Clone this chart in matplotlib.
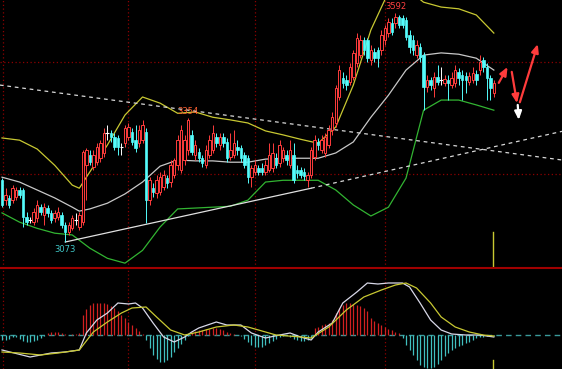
import numpy as np
import matplotlib.pyplot as plt
from matplotlib.patches import Rectangle
from matplotlib.lines import Line2D

plt.rcParams['font.family'] = 'DejaVu Sans'

# daily candles (index points)
opens = [3213, 3168, 3173, 3168, 3175, 3191, 3191, 3129, 3123, 3118, 3127, 3152, 3134, 3150, 3139, 3127,
         3129, 3134, 3111, 3095, 3104, 3123, 3107, 3118, 3247, 3270, 3243, 3254, 3263, 3275, 3320, 3320,
         3311, 3309, 3288, 3297, 3311, 3322, 3304, 3297, 3304, 3322, 3168, 3195, 3184, 3186, 3197, 3218,
         3209, 3225, 3247, 3236, 3259, 3281, 3316, 3270, 3277, 3263, 3247, 3270, 3281, 3311, 3293, 3311,
         3300, 3266, 3270, 3288, 3286, 3270, 3263, 3220, 3232, 3241, 3241, 3232, 3236, 3241, 3263, 3252,
         3263, 3270, 3247, 3270, 3236, 3236, 3232, 3213, 3225, 3266, 3300, 3281, 3275, 3293, 3327, 3343,
         3402, 3445, 3440, 3436, 3447, 3479, 3497, 3531, 3531, 3486, 3504, 3509, 3509, 3531, 3547, 3570,
         3570, 3583, 3581, 3577, 3543, 3531, 3497, 3515, 3497, 3425, 3440, 3422, 3447, 3440, 3434, 3440,
         3429, 3434, 3459, 3452, 3450, 3436, 3440, 3454, 3463, 3486, 3470, 3445, 3411]
closes = [3157, 3179, 3157, 3195, 3191, 3179, 3129, 3118, 3123, 3141, 3157, 3141, 3152, 3139, 3123, 3139,
          3141, 3111, 3095, 3111, 3127, 3123, 3134, 3277, 3281, 3254, 3270, 3288, 3297, 3320, 3320, 3311,
          3288, 3288, 3288, 3331, 3334, 3300, 3286, 3327, 3338, 3168, 3213, 3186, 3213, 3220, 3225, 3207,
          3247, 3259, 3304, 3327, 3304, 3350, 3277, 3293, 3263, 3252, 3281, 3304, 3320, 3297, 3311, 3297,
          3263, 3281, 3297, 3281, 3263, 3247, 3220, 3241, 3247, 3232, 3232, 3247, 3270, 3275, 3247, 3293,
          3281, 3259, 3281, 3213, 3229, 3225, 3222, 3225, 3281, 3304, 3293, 3304, 3311, 3327, 3356, 3422,
          3463, 3434, 3429, 3470, 3502, 3536, 3531, 3509, 3490, 3509, 3490, 3490, 3543, 3558, 3572, 3549,
          3583, 3565, 3565, 3538, 3515, 3509, 3520, 3493, 3425, 3440, 3429, 3447, 3436, 3440, 3443, 3434,
          3445, 3463, 3445, 3440, 3440, 3450, 3456, 3440, 3481, 3470, 3445, 3422, 3434]
highs = [3218, 3195, 3179, 3202, 3197, 3197, 3195, 3141, 3129, 3150, 3168, 3159, 3161, 3157, 3145, 3145,
         3152, 3141, 3118, 3118, 3134, 3139, 3141, 3281, 3286, 3281, 3281, 3297, 3304, 3331, 3338, 3327,
         3320, 3316, 3297, 3338, 3343, 3331, 3338, 3338, 3350, 3331, 3220, 3207, 3225, 3232, 3236, 3225,
         3259, 3263, 3316, 3338, 3316, 3354, 3327, 3304, 3286, 3270, 3293, 3316, 3338, 3320, 3320, 3320,
         3309, 3320, 3327, 3304, 3293, 3277, 3270, 3247, 3259, 3247, 3252, 3259, 3297, 3297, 3275, 3304,
         3288, 3281, 3304, 3297, 3247, 3243, 3241, 3232, 3288, 3316, 3309, 3316, 3320, 3338, 3368, 3429,
         3474, 3459, 3452, 3479, 3509, 3547, 3543, 3538, 3536, 3520, 3513, 3515, 3554, 3565, 3581, 3581,
         3592, 3588, 3588, 3583, 3554, 3543, 3531, 3524, 3504, 3452, 3447, 3459, 3474, 3470, 3452, 3452,
         3459, 3474, 3468, 3463, 3459, 3459, 3470, 3463, 3497, 3493, 3479, 3452, 3440]
lows = [3152, 3157, 3150, 3161, 3168, 3173, 3107, 3111, 3116, 3111, 3118, 3134, 3111, 3129, 3116, 3118,
        3123, 3104, 3073, 3089, 3100, 3111, 3100, 3111, 3168, 3247, 3236, 3247, 3254, 3266, 3304, 3300,
        3281, 3270, 3270, 3288, 3304, 3293, 3277, 3288, 3297, 3116, 3157, 3175, 3173, 3179, 3191, 3195,
        3197, 3218, 3236, 3229, 3247, 3270, 3270, 3259, 3254, 3243, 3241, 3263, 3275, 3288, 3281, 3288,
        3254, 3259, 3263, 3270, 3254, 3241, 3207, 3197, 3225, 3225, 3225, 3225, 3232, 3232, 3241, 3243,
        3254, 3247, 3241, 3207, 3218, 3218, 3213, 3197, 3218, 3259, 3281, 3275, 3266, 3286, 3316, 3334,
        3395, 3422, 3418, 3429, 3440, 3470, 3490, 3497, 3481, 3474, 3481, 3470, 3497, 3520, 3538, 3543,
        3558, 3558, 3558, 3531, 3502, 3497, 3490, 3481, 3372, 3413, 3418, 3402, 3429, 3429, 3427, 3395,
        3422, 3425, 3429, 3395, 3411, 3429, 3434, 3429, 3452, 3459, 3395, 3395, 3402]

# bollinger bands read at sample bars
band_idx = [0, 5, 10, 15, 20, 22, 25, 30, 35, 40, 45, 50, 55, 60, 65, 70, 75, 80, 85, 90,
            95, 100, 105, 110, 115, 120, 125, 130, 135, 140]
boll_upper = [3309, 3304, 3284, 3247, 3202, 3195, 3232, 3293, 3361, 3402, 3388, 3365, 3368, 3356, 3350,
              3343, 3325, 3316, 3306, 3297, 3334, 3429, 3554, 3640, 3649, 3617, 3606, 3602, 3588, 3547]
boll_mid = [3220, 3209, 3191, 3173, 3152, 3143, 3148, 3161, 3182, 3209, 3245, 3259, 3257, 3257, 3254,
            3254, 3261, 3263, 3263, 3263, 3275, 3300, 3356, 3406, 3463, 3497, 3502, 3499, 3490, 3463]
boll_lower = [3139, 3118, 3104, 3093, 3089, 3077, 3059, 3036, 3025, 3054, 3107, 3148, 3150, 3152, 3154,
              3168, 3209, 3213, 3213, 3213, 3191, 3157, 3132, 3152, 3218, 3372, 3395, 3395, 3384, 3372]

# trend lines (bar, price)
down_trend = [(-0.6, 3429), (159.4, 3259)]
up_trend_solid = [(18, 3073), (88, 3195)]
up_trend_dash = [(88, 3195), (159.4, 3324)]

# MACD
dif_idx = [0, 8, 14, 18, 22, 24, 27, 30, 33, 36, 38, 40, 43, 46, 49, 52, 54, 56, 61, 64, 68, 71,
           75, 79, 82, 85, 88, 90, 94, 97, 101, 104, 107, 110, 114, 116, 119, 122, 125, 128, 132, 136, 140]
dif_vals = [-15, -22, -18, -17, -15, 2, 15, 22, 32, 31, 32, 27, 12, -2, -7, -2, 3, 7, 13, 10, 10, 2,
            -3, 0, 2, -2, -5, 3, 12, 32, 43, 52, 51, 52, 52, 48, 32, 15, 5, 1, 0, 0, -2]
dea_idx = [0, 5, 11, 16, 22, 26, 30, 34, 37, 41, 44, 48, 52, 56, 61, 66, 70, 73, 78, 85, 88, 93,
           98, 103, 108, 112, 115, 118, 122, 125, 129, 133, 137, 140]
dea_vals = [-17, -18, -20, -18, -15, 3, 13, 22, 27, 28, 18, 5, 0, 3, 8, 10, 8, 5, 0, -2, -3, 8,
            25, 38, 45, 50, 52, 47, 32, 18, 8, 3, 0, -1]
macd_hist = [-5, -5, -4, -2, -2, -4, -6, -7, -7, -6, -5, -3, -1, 2, 3, 3, 3, 2, 1, 0, 1, 1, 2,
             20, 26, 30, 32, 32, 32, 32, 31, 29, 27, 24, 20, 17, 13, 10, 7, 4, 1,
             -5, -13, -20, -24, -27, -27, -25, -22, -17, -13, -9, -5, -1,
             3, 4, 5, 5, 6, 6, 7, 7, 6, 5, 3, 2, 1, 0, -1,
             -4, -7, -10, -12, -12, -12, -10, -8, -6, -4, -2, -1, 0, -2, -4, -5, -6, -6, -5, -3,
             7, 8, 10, 11, 12, 15, 22, 27, 30, 32, 32, 31, 30, 29, 27, 24, 17, 14, 12, 10, 8, 6, 5, 3, 2,
             -3, -10, -15, -20, -25, -30, -32, -33, -33, -32, -29, -25, -21, -18, -15, -13, -11, -10,
             -8, -7, -5, -3, -2, -2, -1, -1, -1]

UP = '#ff3c3c'
DOWN = '#54fcfc'
GRID = '#8c0000'

fig = plt.figure(figsize=(5.62, 3.69), dpi=100, facecolor='black')
split = 101 / 369
ax = fig.add_axes([0, split, 1, 1 - split], facecolor='black')
axm = fig.add_axes([0, 0, 1, split], facecolor='black')
for a in (ax, axm):
    a.set_xlim(-0.57, 159.4)
    a.set_axis_off()
ax.set_ylim(3014, 3622)
axm.set_ylim(-34, 67)

# grid
for a in (ax, axm):
    for gx in [0.3, 36, 72, 109]:
        a.axvline(gx, color=GRID, ls=(0, (1, 2)), lw=0.9)
for gy in [3481, 3227]:
    ax.axhline(gy, color=GRID, ls=(0, (1, 2)), lw=0.9)

# bands
ax.plot(band_idx, boll_upper, color='#c8c832', lw=0.9)
ax.plot(band_idx, boll_mid, color='#c8c8c8', lw=0.9)
ax.plot(band_idx, boll_lower, color='#32b432', lw=0.9)

# trend lines
ax.plot(*zip(*down_trend), color='#d8d8d8', lw=0.9, ls=(0, (3, 3)))
ax.plot(*zip(*up_trend_solid), color='#e0e0e0', lw=0.9)
ax.plot(*zip(*up_trend_dash), color='#d8d8d8', lw=0.9, ls=(0, (3, 3)))

# candles
w = 0.7
for i, (o, c, h, l) in enumerate(zip(opens, closes, highs, lows)):
    if c > o:
        ax.add_patch(Rectangle((i - w / 2, o), w, c - o, facecolor='black', edgecolor=UP, lw=0.7, zorder=3))
        ax.vlines(i, l, o, color=UP, lw=0.7, zorder=3)
        ax.vlines(i, c, h, color=UP, lw=0.7, zorder=3)
    elif c < o:
        ax.add_patch(Rectangle((i - w / 2, c), w, o - c, facecolor=DOWN, edgecolor=DOWN, lw=0.5, zorder=3))
        ax.vlines(i, l, h, color=DOWN, lw=0.7, zorder=3)
    else:
        ax.hlines(o, i - w / 2 - 0.2, i + w / 2 + 0.2, color='white', lw=0.8, zorder=3)
        ax.vlines(i, l, h, color='white', lw=0.7, zorder=3)

# price labels
ax.text(18, lows[18] - 7, str(lows[18]), color='#40c8c8', fontsize=6, ha='center', va='top')
ax.text(112, highs[112] + 5, str(highs[112]), color='#ff4040', fontsize=6, ha='center', va='bottom')
ax.text(53, highs[53] + 4, str(highs[53]), color='#ff6030', fontsize=6, ha='center', va='bottom')

# arrows
arrow_style = '-|>,head_width=0.3,head_length=0.7'
red_arrows = [((141.4, 3434), (143.9, 3470)), ((145.1, 3459), (146.6, 3388)), ((147.4, 3390), (152.5, 3522))]
for start, end in red_arrows:
    ax.annotate('', xy=end, xytext=start,
                arrowprops=dict(arrowstyle=arrow_style, color='#ff3c3c', lw=1.6,
                                mutation_scale=7, shrinkA=0, shrinkB=0))
ax.annotate('', xy=(147.1, 3350), xytext=(146.8, 3384),
            arrowprops=dict(arrowstyle=arrow_style, color='white', lw=1.6,
                            mutation_scale=7, shrinkA=0, shrinkB=0))

# cursor line
ax.axvline(139.8, ymin=0, ymax=0.134, color='#c8c832', lw=1)
axm.axvline(139.8, ymin=0, ymax=0.09, color='#c8c832', lw=1)

# MACD panel
axm.axhline(0, color='#3a9a9a', ls=(0, (4, 3)), lw=1)
xs = np.arange(len(macd_hist))
hist = np.array(macd_hist)
axm.vlines(xs[hist > 0], 0, hist[hist > 0], color='#d22020', lw=0.9)
axm.vlines(xs[hist < 0], 0, hist[hist < 0], color='#40c0c0', lw=0.9)
axm.plot(dif_idx, dif_vals, color='#d8d8e8', lw=0.9)
axm.plot(dea_idx, dea_vals, color='#c8c832', lw=0.9)

# panel separator
fig.add_artist(Line2D([0, 1], [split, split], color='#a00000', lw=1.5))

fig.savefig('out.png', dpi=100, facecolor='black')
